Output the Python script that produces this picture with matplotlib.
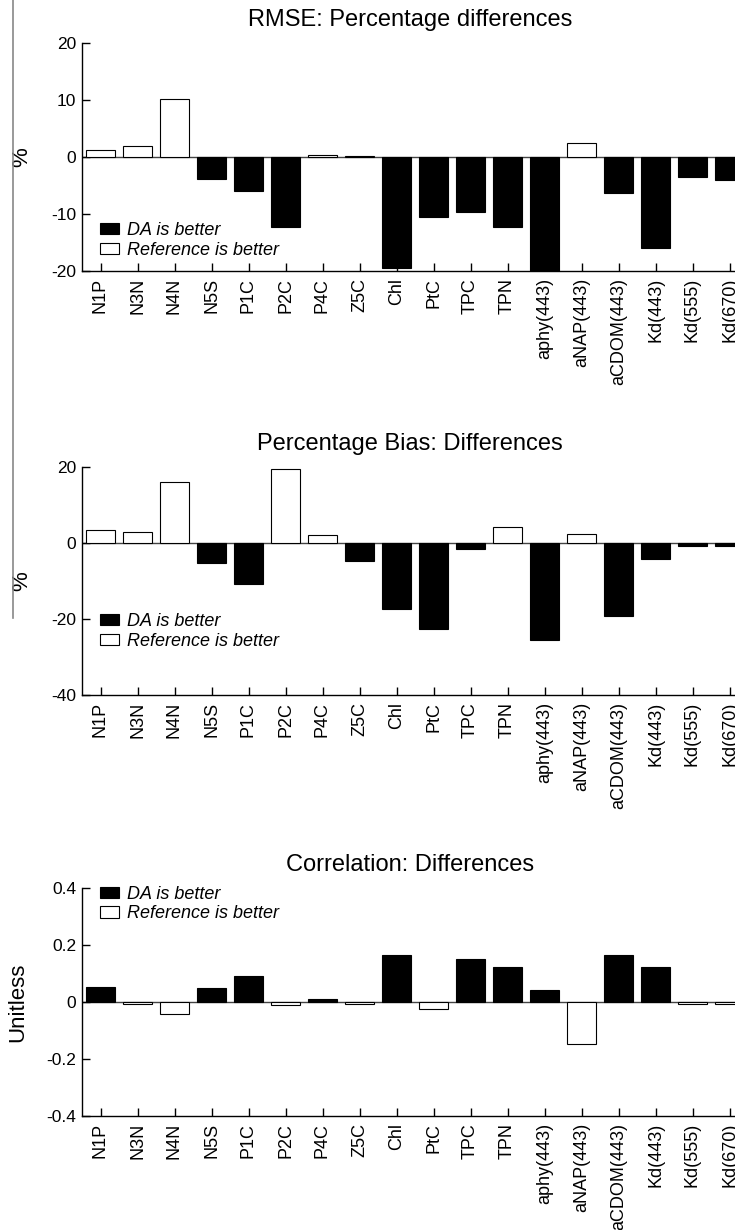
import matplotlib
matplotlib.use("Agg")
import matplotlib.pyplot as plt
from matplotlib.patches import Patch
from matplotlib.lines import Line2D

plt.rcParams['font.family'] = ['Liberation Sans', 'DejaVu Sans']
plt.rcParams['axes.unicode_minus'] = False

variables = ['N1P', 'N3N', 'N4N', 'N5S', 'P1C', 'P2C', 'P4C', 'Z5C', 'Chl', 'PtC',
             'TPC', 'TPN', 'aphy(443)', 'aNAP(443)', 'aCDOM(443)', 'Kd(443)',
             'Kd(555)', 'Kd(670)']

# RMSE percentage differences (%)
rmse_diff = [1.3, 2.0, 10.1, -3.9, -5.9, -12.2, 0.4, 0.25, -19.4, -10.6,
             -9.7, -12.3, -21.0, 2.5, -6.4, -16.0, -3.5, -4.1]
# percentage bias differences (%)
bias_diff = [3.5, 2.9, 16.1, -5.3, -10.9, 19.6, 2.0, -4.7, -17.3, -22.5,
             -1.5, 4.2, -25.6, 2.5, -19.3, -4.1, -0.8, -0.8]
# correlation differences (unitless)
corr_diff = [0.054, -0.008, -0.043, 0.049, 0.092, -0.011, 0.009, -0.008, 0.166, -0.024,
             0.151, 0.124, 0.041, -0.148, 0.164, 0.124, -0.006, -0.006]

rmse_ticks = [-20, -10, 0, 10, 20]
bias_ticks = [-40, -20, 0, 20]
corr_ticks = [-0.4, -0.2, 0, 0.2, 0.4]
corr_ticklabels = ['-0.4', '-0.2', '0', '0.2', '0.4']

W, H = 735, 1230
fig = plt.figure(figsize=(W / 100, H / 100), dpi=100)


def make_panel(top_px, values, da_better_negative, ticks, ticklabels, title,
               ylabel, ylabel_x, leg_top):
    ax = fig.add_axes([82 / W, (H - top_px - 228) / H, 666 / W, 228 / H])
    x = list(range(len(variables)))
    if da_better_negative:
        colors = ['black' if v < 0 else 'white' for v in values]
    else:
        colors = ['black' if v > 0 else 'white' for v in values]
    ax.axhline(0, color='#444444', lw=1.0, zorder=1)
    ax.bar(x, values, width=0.8, color=colors, edgecolor='black', linewidth=0.8, zorder=2)
    ax.set_xlim(-0.5, len(variables) - 0.5)
    ax.set_ylim(ticks[0], ticks[-1])
    ax.set_yticks(ticks)
    ax.set_yticklabels(ticklabels)
    ax.set_xticks(x)
    ax.set_xticklabels(variables, rotation=90)
    ax.tick_params(axis='y', direction='in', length=6, width=1, labelsize=12.5, pad=4)
    ax.tick_params(axis='x', direction='in', length=6, width=1, labelsize=13, pad=5)
    for s in ['top', 'right']:
        ax.spines[s].set_visible(False)
    for s in ['left', 'bottom']:
        ax.spines[s].set_linewidth(1.0)
    ax.set_title(title, fontsize=17, pad=12, x=0.493)
    ax.set_ylabel(ylabel, fontsize=16)
    ax.yaxis.set_label_coords(ylabel_x, 0.5)
    handles = [Patch(facecolor='black', edgecolor='black', lw=0.8),
               Patch(facecolor='white', edgecolor='black', lw=0.8)]
    ax.legend(handles, ['DA is better', 'Reference is better'], loc='upper left',
              bbox_to_anchor=(0.027, leg_top), frameon=False, borderpad=0,
              borderaxespad=0, handlelength=1.05, handleheight=0.6,
              handletextpad=0.45, labelspacing=0.15,
              prop={'style': 'italic', 'size': 13})
    return ax


make_panel(43, rmse_diff, True, rmse_ticks, [str(t) for t in rmse_ticks],
           'RMSE: Percentage differences', '%', -0.075, 0.215)
make_panel(467, bias_diff, True, bias_ticks, [str(t) for t in bias_ticks],
           'Percentage Bias: Differences', '%', -0.075, 0.36)
make_panel(888, corr_diff, False, corr_ticks, corr_ticklabels,
           'Correlation: Differences', 'Unitless', -0.08, 1.01)

# thin grey rule down the left margin
fig.add_artist(Line2D([13 / W, 13 / W], [1.0, (H - 618) / H], color='#888888', lw=1.2))

fig.savefig('out.png', dpi=100)
